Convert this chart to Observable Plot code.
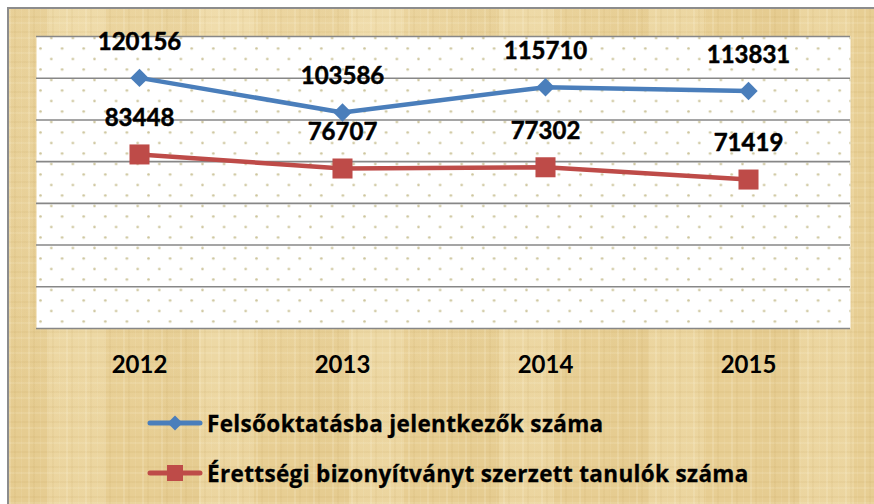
<!DOCTYPE html>
<html><head><meta charset="utf-8">
<script src="https://cdn.jsdelivr.net/npm/d3@7"></script>
<script src="https://cdn.jsdelivr.net/npm/@observablehq/plot@0.6"></script>
<style>
html,body{margin:0;padding:0;background:#fff;}
#wrap{position:relative;width:874px;height:504px;overflow:hidden;background:#fff;font-family:Lato,"Open Sans",sans-serif;}
#paper{position:absolute;left:7px;top:7px;width:880px;height:510px;border-left:2px solid #8c8c8c;border-top:2px solid #8c8c8c;
 background-color:#e9d198;
 background-image:
  repeating-linear-gradient(90deg, rgba(255,250,230,0.16) 0 2px, rgba(0,0,0,0) 2px 5px, rgba(170,130,50,0.06) 5px 7px, rgba(0,0,0,0) 7px 12px, rgba(255,250,230,0.08) 12px 13px, rgba(0,0,0,0) 13px 19px),
  repeating-linear-gradient(0deg, rgba(255,250,230,0.12) 0 2px, rgba(0,0,0,0) 2px 6px, rgba(160,120,40,0.06) 6px 8px, rgba(0,0,0,0) 8px 15px),
  repeating-linear-gradient(90deg, rgba(200,160,80,0.10) 0 40px, rgba(255,245,215,0.12) 40px 95px, rgba(210,170,90,0.08) 95px 150px),
  radial-gradient(ellipse at 30% 20%, rgba(255,245,215,0.30), rgba(0,0,0,0) 60%);
}
#chart{position:absolute;left:0;top:0;}
.leg{position:absolute;left:147px;height:30px;display:flex;align-items:center;font-family:"Open Sans",Lato,sans-serif;font-weight:bold;font-size:22.5px;letter-spacing:0.35px;-webkit-text-stroke:0.3px #000;color:#000;white-space:nowrap;}
.leg svg{margin-right:4px;}
</style></head>
<body>
<div id="wrap">
 <div id="paper"></div>
 <div id="chart"></div>
 <div id="legend"></div>
</div>
<script>
const years = ["2012","2013","2014","2015"];
const applicants = [120156, 103586, 115710, 113831];
const graduates = [83448, 76707, 77302, 71419];
const yTicks = [0, 20000, 40000, 60000, 80000, 100000, 120000, 140000];
const seriesNames = ["Felsőoktatásba jelentkezők száma", "Érettségi bizonyítványt szerzett tanulók száma"];
const seriesColors = ["#4a7ebb", "#be4b48"];

const blue = years.map((y, i) => ({year: y, value: applicants[i], series: seriesNames[0]}));
const red = years.map((y, i) => ({year: y, value: graduates[i], series: seriesNames[1]}));
const all = blue.concat(red);

const svg = Plot.plot({
  width: 874, height: 390,
  marginTop: 36, marginLeft: 36, marginRight: 24, marginBottom: 62,
  style: {background: "transparent", fontFamily: "Lato, 'Open Sans', sans-serif", color: "#000", overflow: "visible"},
  x: {type: "point", domain: years, padding: 0.5, label: null},
  y: {domain: [0, 140000], axis: null, label: null},
  marks: [
    Plot.frame({fill: "#fff"}),
    Plot.frame({fill: "url(#dots)"}),
    Plot.ruleY(yTicks, {stroke: "#878787", strokeWidth: 1.6}),
    Plot.axisX({tickSize: 0, tickPadding: 27, fontSize: 24, fontWeight: "bold", fill: "#000", stroke: "#000", strokeWidth: 0.5}),
    Plot.line(red, {x: "year", y: "value", stroke: seriesColors[1], strokeWidth: 4.5}),
    Plot.line(blue, {x: "year", y: "value", stroke: seriesColors[0], strokeWidth: 4.5}),
    Plot.dot(red, {x: "year", y: "value", symbol: "square", r: 11.3, fill: seriesColors[1], stroke: "none"}),
    Plot.dot(blue, {x: "year", y: "value", symbol: "diamond2", r: 8.3, fill: seriesColors[0], stroke: "none"}),
    Plot.text(all, {x: "year", y: "value", text: d => String(d.value), dy: -36, fontSize: 24, fontWeight: "bold", fill: "#000", stroke: "#000", strokeWidth: 0.5})
  ]
});

d3.select(svg).insert("defs", ":first-child").html(
  `<pattern id="dots" patternUnits="userSpaceOnUse" x="34.6" y="210.75" width="21.6" height="21">
     <circle cx="5.4" cy="5.25" r="1.3" fill="#cdc59c"/>
     <circle cx="16.2" cy="15.75" r="1.3" fill="#cdc59c"/>
   </pattern>`);
document.getElementById("chart").appendChild(svg);

// legend
const legend = d3.select("#legend");
const legTops = [408, 458];
seriesNames.forEach((name, i) => {
  const row = legend.append("div").attr("class", "leg").style("top", legTops[i] + "px");
  const s = row.append("svg").attr("width", 56).attr("height", 30);
  s.append("line").attr("x1", 3).attr("x2", 53).attr("y1", 15).attr("y2", 15)
    .attr("stroke", seriesColors[i]).attr("stroke-width", 5).attr("stroke-linecap", "round");
  if (i === 0) {
    s.append("path").attr("d", "M28,7.5L35.5,15L28,22.5L20.5,15Z").attr("fill", seriesColors[i]);
  } else {
    s.append("rect").attr("x", 20).attr("y", 7).attr("width", 16).attr("height", 16).attr("fill", seriesColors[i]);
  }
  row.append("span").text(name);
});
</script>
</body></html>
